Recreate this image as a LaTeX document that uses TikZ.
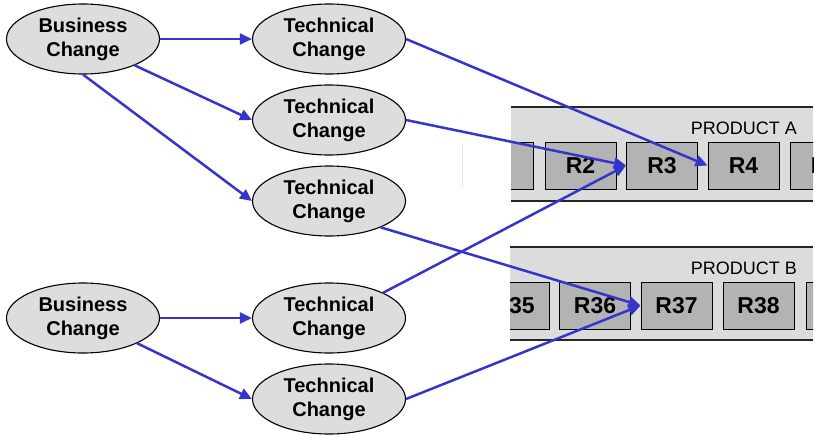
\documentclass[tikz,border=0pt]{standalone}
\usepackage{fontspec}
\setmainfont{Liberation Sans}
\usetikzlibrary{shapes.geometric,arrows.meta}
\definecolor{ovalfill}{HTML}{DDDDDD}
\definecolor{panelfill}{HTML}{DCDCDC}
\definecolor{reqfill}{HTML}{B3B3B3}
\definecolor{link}{HTML}{3535CC}
\tikzset{
  change/.style={ellipse, draw=black, line width=1.1pt, fill=ovalfill,
    minimum width=153pt, minimum height=70pt, inner sep=0pt, align=center,
    font=\fontsize{20}{24}\selectfont\bfseries},
  req/.style={rectangle, draw=black, line width=1pt, fill=reqfill,
    minimum width=71pt, minimum height=47pt, inner sep=0pt,
    font=\fontsize{23}{26}\selectfont\bfseries},
  panellabel/.style={anchor=east, inner sep=0pt, font=\fontsize{18}{20}\selectfont},
  flow/.style={draw=link, line width=2.5pt, -{Triangle[length=12pt,width=11pt]}},
}
\begin{document}
\begin{tikzpicture}[x=1pt,y=-1pt]
\useasboundingbox (0,0) rectangle (816,434);

% thin grey mark left of product A
\draw[black!9, line width=0.8pt] (462,143) -- (462,188);

% product A panel and its requirements
\fill[panelfill] (511,107) rectangle (813,201);
\draw[black!85, line width=1.3pt] (511,107) -- (813,107);
\draw[black!85, line width=1.3pt] (511,201) -- (813,201);
\node[panellabel] (pa) at (797,128) {PRODUCT A};
\begin{scope}
  \clip (511,107) rectangle (813,201);
  \node[req] (r1) at (497.5,165.5) {};
  \node[req] (r2) at (580.5,165.5) {R2};
  \node[req] (r3) at (662,165.5) {R3};
  \node[req] (r4) at (743.5,165.5) {R4};
  \node[req] (r5) at (825.5,165.5) {R5};
\end{scope}

% product B panel and its requirements
\fill[panelfill] (510,247) rectangle (813,340);
\draw[black!85, line width=1.3pt] (510,247) -- (813,247);
\draw[black!85, line width=1.3pt] (510,340) -- (813,340);
\node[panellabel] (pb) at (797,268) {PRODUCT B};
\begin{scope}
  \clip (510,247) rectangle (813,340);
  \node[req] (r35) at (513.5,305.5) {R35};
  \node[req] (r36) at (595,305.5) {R36};
  \node[req] (r37) at (676.5,305.5) {R37};
  \node[req] (r38) at (758.5,305.5) {R38};
  \node[req] (r39) at (841.5,305.5) {};
\end{scope}

% change ovals
\node[change] (b1) at (83,39) {Business\\Change};
\node[change] (t1) at (329,39) {Technical\\Change};
\node[change] (t2) at (329,120) {Technical\\Change};
\node[change] (t3) at (329,201) {Technical\\Change};
\node[change] (b2) at (83,318) {Business\\Change};
\node[change] (t4) at (329,318) {Technical\\Change};
\node[change] (t5) at (329,399) {Technical\\Change};

% business -> technical
\draw[flow] (b1.east) -- (t1.west);
\draw[flow] (b1.-27) -- (t2.west);
\draw[flow] (b1.south) -- (t3.west);
\draw[flow] (b2.east) -- (t4.west);
\draw[flow] (b2.-25) -- (t5.west);

% technical -> requirements
\draw[flow] (t1.east) -- (r4.west);
\draw[flow] (t2.east) -- (r3.west);
\draw[flow] (t3.-27) -- (r37.west);
\draw[flow] (t4.25) -- (r3.west);
\draw[flow] (t5.east) -- (r37.west);
\end{tikzpicture}
\end{document}
